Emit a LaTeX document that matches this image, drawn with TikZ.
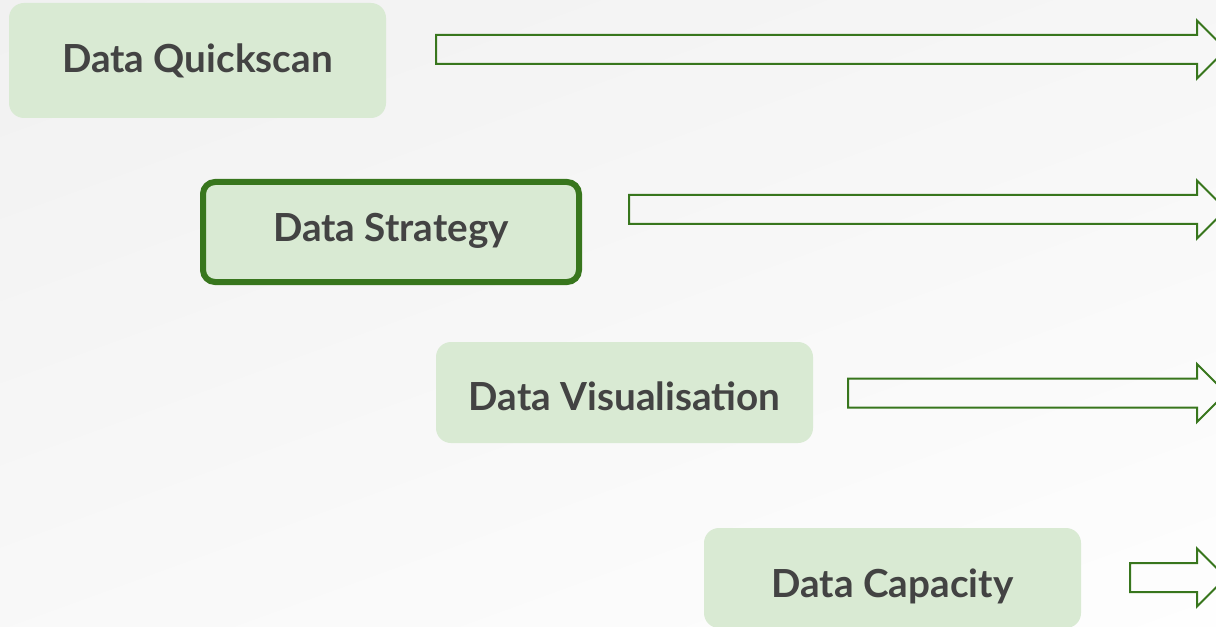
\documentclass[tikz,border=0pt]{standalone}
\usepackage{fontspec}
\setmainfont{Lato}[UprightFont=* Bold]
\definecolor{boxfill}{HTML}{D9EAD3}
\definecolor{edgegreen}{HTML}{38761D}
\definecolor{labelgray}{HTML}{434343}
\tikzset{
  stagebox/.style={rectangle, rounded corners=15*0.75pt, fill=boxfill, draw=none, inner sep=0pt},
  focusbox/.style={stagebox, rounded corners=12*0.75pt, draw=edgegreen, line width=4.5pt},
  stagelabel/.style={anchor=base, inner sep=0pt, text=labelgray, font=\fontsize{29pt}{34pt}\selectfont},
  blockarrow/.style={draw=edgegreen, line width=1.5pt, fill=none, line join=miter},
}
\begin{document}
\begin{tikzpicture}[x=0.75pt,y=-0.75pt]
  \useasboundingbox (0,0) rectangle (1216,627);
  \clip (0,0) rectangle (1216,627);
  % backdrop
  \shade[top color=black!6, bottom color=white, shading angle=20] (-200,-200) rectangle (1416,827);

  % stage boxes
  \node[stagebox, minimum width=377*0.75pt, minimum height=115*0.75pt] (quick) at (197.5,60.5) {};
  \node[focusbox, minimum width=376*0.75pt, minimum height=100*0.75pt] (strat) at (391,232) {};
  \node[stagebox, minimum width=377*0.75pt, minimum height=101*0.75pt] (visual) at (624.5,392.5) {};
  \node[stagebox, minimum width=377*0.75pt, minimum height=100*0.75pt] (capac) at (892.5,578) {};

  % labels
  \node[stagelabel] (quickt) at (197.5,73) {Data Quickscan};
  \node[stagelabel] (stratt) at (391,242) {Data Strategy};
  \node[stagelabel] (visualt) at (624.5,410) {Data Visualisation};
  \node[stagelabel] (capact) at (892.5,597) {Data Capacity};

  % arrow tails, on each arrow's centre line
  \coordinate (qa) at (436,49.5);
  \coordinate (sa) at (629,209.5);
  \coordinate (va) at (848,393);
  \coordinate (ca) at (1130,577.5);

  % block arrows: shaft half width 14.5, head half width 29, head base at x=1197
  \foreach \s/\len in {qa/761,sa/568,va/349,ca/67}{
    \draw[blockarrow]
      (\s) ++(0,-14.5) -- ++(\len,0) -- ++(0,-14.5) -- ++(29,29)
      -- ++(-29,29) -- ++(0,-14.5) -- ++(-\len,0) -- cycle;
  }
\end{tikzpicture}
\end{document}
